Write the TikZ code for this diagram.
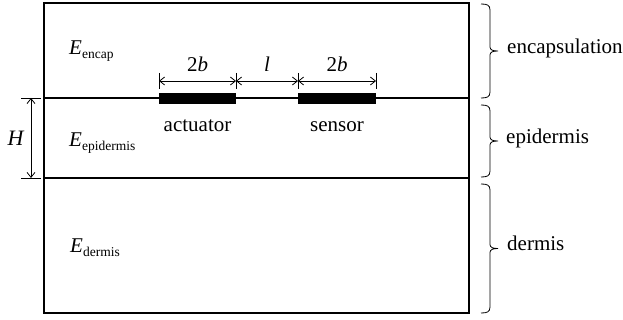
\documentclass[tikz,border=0pt]{standalone}
\usepackage{fontspec}
\setmainfont{Liberation Serif}
\usetikzlibrary{arrows.meta,calc}
\tikzset{
  thick line/.style={line width=2pt},
  dimline/.style={line width=0.8pt,{Straight Barb[length=5pt,width=8pt]}-{Straight Barb[length=5pt,width=8pt]}},
  tickline/.style={line width=0.8pt},
  bigtxt/.style={font=\fontsize{21}{24}\selectfont, inner sep=0pt},
  bracestyle/.style={line width=0.8pt},
  elec/.style={fill=black,draw=none}
}
\newcommand{\Esub}[1]{\textit{E}\raisebox{-4pt}{\fontsize{13.5}{14}\selectfont #1}}
% brace from y=#1 to y=#2, named tip coordinate #3
\newcommand{\layerbrace}[3]{%
  \pgfmathsetmacro{\bym}{(#1+#2)/2}%
  \draw[bracestyle] (481,#1) .. controls (487,#1) and (490,#1+1) .. (490,#1+6)
    -- (490,\bym-4) .. controls (490,\bym-1) and (493,\bym) .. (498,\bym)
    .. controls (493,\bym) and (490,\bym+1) .. (490,\bym+4)
    -- (490,#2-6) .. controls (490,#2-1) and (487,#2) .. (481,#2);
  \coordinate (#3) at (498,\bym);}
\begin{document}
\begin{tikzpicture}[x=1pt,y=-1pt]
\useasboundingbox (0,0) rectangle (623,320);
% layers
\coordinate (tl) at (44,3);
\coordinate (br) at (469,313);
\coordinate (l1w) at (44,98);
\coordinate (l1e) at (469,98);
\coordinate (l2w) at (44,178);
\coordinate (l2e) at (469,178);
\draw[thick line] (tl) rectangle (br);
\draw[thick line] (l1w) -- (l1e);
\draw[thick line] (l2w) -- (l2e);
% electrodes
\node[elec, minimum width=77pt, minimum height=11pt, inner sep=0pt] (act) at (197.5,98.5) {};
\node[elec, minimum width=78pt, minimum height=11pt, inner sep=0pt] (sen) at (337,98.5) {};
% dimension ticks
\coordinate (t1a) at (159,73); \coordinate (t1b) at (159,89);
\coordinate (t2a) at (236,73); \coordinate (t2b) at (236,89);
\coordinate (t3a) at (298,73); \coordinate (t3b) at (298,89);
\coordinate (t4a) at (376,73); \coordinate (t4b) at (376,89);
\draw[tickline] (t1a) -- (t1b);
\draw[tickline] (t2a) -- (t2b);
\draw[tickline] (t3a) -- (t3b);
\draw[tickline] (t4a) -- (t4b);
\coordinate (d1) at (159,81);
\coordinate (d2) at (236,81);
\coordinate (d3) at (298,81);
\coordinate (d4) at (376,81);
\draw[dimline] (d1) -- (d2);
\draw[dimline] (d2) -- (d3);
\draw[dimline] (d3) -- (d4);
\node[bigtxt, anchor=base] (lab2b1) at (197.5,72) {2\textit{b}};
\node[bigtxt, anchor=base] (labl) at (267,72) {\textit{l}};
\node[bigtxt, anchor=base] (lab2b2) at (337,72) {2\textit{b}};
\node[bigtxt, anchor=base] (acttxt) at (197.5,132) {actuator};
\node[bigtxt, anchor=base] (sentxt) at (337,132) {sensor};
% H dimension
\coordinate (h1a) at (21,98); \coordinate (h1b) at (41,98);
\coordinate (h2a) at (21,178); \coordinate (h2b) at (41,178);
\draw[tickline] (h1a) -- (h1b);
\draw[tickline] (h2a) -- (h2b);
\coordinate (hu) at (31,98);
\coordinate (hd) at (31,178);
\draw[dimline] (hu) -- (hd);
\node[bigtxt, anchor=base, font=\fontsize{22}{24}\selectfont] (Htxt) at (16,146) {\textit{H}};
% moduli labels
\node[bigtxt, anchor=base west] (Eenc) at (69,55) {\Esub{encap}};
\node[bigtxt, anchor=base west] (Eepi) at (69,147) {\Esub{epidermis}};
\node[bigtxt, anchor=base west] (Eder) at (70,252) {\Esub{dermis}};
% braces
\layerbrace{4}{98}{m1}
\layerbrace{105}{177}{m2}
\layerbrace{184}{313}{m3}
\node[bigtxt, anchor=mid west] (encl) at ($(m1)+(9,0)$) {encapsulation};
\node[bigtxt, anchor=mid west] (epil) at ($(m2)+(8,0)$) {epidermis};
\node[bigtxt, anchor=mid west] (derl) at ($(m3)+(9,0)$) {dermis};
\end{tikzpicture}
\end{document}
